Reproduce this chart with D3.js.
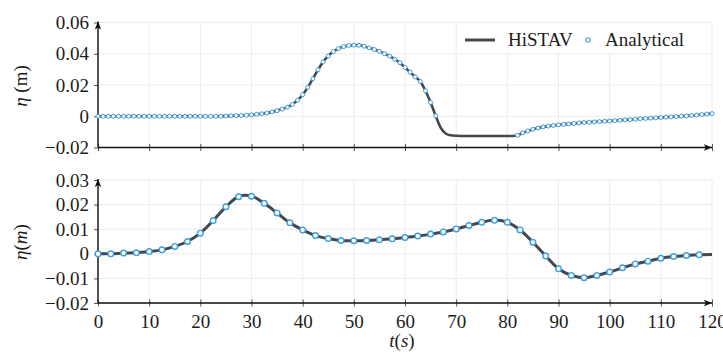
<!DOCTYPE html>
<html>
<head>
<meta charset="utf-8">
<script src="https://cdn.jsdelivr.net/npm/d3@7"></script>
</head>
<body style="margin:0">
<svg id="chart" width="723" height="352" font-family="Liberation Serif" font-size="19"></svg>
<script>
// time grids
var tTop = d3.range(0, 121, 1);          // 1 s samples, top panel
var tBotMarks = d3.range(0, 120, 2.5);   // 2.5 s samples, bottom analytical markers
var tBotLine = d3.range(0, 120.1, 2.5);  // bottom HiSTAV line (goes to 120)

// top panel: HiSTAV (line), t = 0..120
var histavTop = [
  0, 0, 0, 0, 0, 0, 0, 0, 0, 0,
  0, 0, 0, 0, 0, 0, 0, 0, 0, 0,
  0, 0, 0, 0, 0, 0.0002, 0.0003, 0.0004, 0.0005, 0.0007,
  0.0009, 0.0012, 0.0016, 0.0021, 0.0028, 0.0036, 0.0046, 0.0058, 0.0076, 0.0103,
  0.0138, 0.0185, 0.0240, 0.0298, 0.0348, 0.0386, 0.0414, 0.0433, 0.0446, 0.0453,
  0.0455, 0.0454, 0.0448, 0.0438, 0.0427, 0.0415, 0.0401, 0.0385, 0.0365, 0.0343,
  0.0312, 0.0282, 0.0252, 0.0222, 0.0163, 0.0088, 0.0003, -0.0075, -0.0112, -0.0122,
  -0.0125, -0.0126, -0.0126, -0.0126, -0.0126, -0.0126, -0.0126, -0.0126, -0.0126, -0.0126,
  -0.0126, -0.0126, -0.0123, -0.0106, -0.0094, -0.0084, -0.0075, -0.0068, -0.0063, -0.0059,
  -0.0055, -0.0052, -0.0049, -0.0046, -0.0043, -0.0040, -0.0038, -0.0036, -0.0034, -0.0032,
  -0.0030, -0.0028, -0.0026, -0.0023, -0.0021, -0.0019, -0.0016, -0.0014, -0.0012, -0.0010,
  -0.0008, -0.0006, -0.0004, -0.0002, 0.0000, 0.0002, 0.0005, 0.0008, 0.0011, 0.0014,
  0.0017
];

// top panel: Analytical (markers), null where no marker is drawn
var analyticalTop = [
  0, 0, 0, 0, 0, 0, 0, 0, 0, 0,
  0, 0, 0, 0, 0, 0, 0, 0, 0, 0,
  0, 0, 0, 0, 0, 0.0002, 0.0003, 0.0004, 0.0005, 0.0007,
  0.0009, 0.0012, 0.0016, 0.0021, 0.0028, 0.0036, 0.0046, 0.0058, 0.0076, 0.0103,
  0.0138, 0.0185, 0.0240, 0.0298, 0.0348, 0.0386, 0.0414, 0.0433, 0.0446, 0.0453,
  0.0455, 0.0454, 0.0448, 0.0438, 0.0427, 0.0415, 0.0401, 0.0385, 0.0365, 0.0343,
  0.0312, 0.0282, 0.0252, 0.0222, 0.0163, 0.0088, 0.0003, null, null, null,
  null, null, null, null, null, null, null, null, null, null,
  null, null, -0.0122, -0.0106, -0.0094, -0.0084, -0.0075, -0.0068, -0.0063, -0.0059,
  -0.0055, -0.0052, -0.0049, -0.0046, -0.0043, -0.0040, -0.0038, -0.0036, -0.0034, -0.0032,
  -0.0030, -0.0028, -0.0026, -0.0023, -0.0021, -0.0019, -0.0016, -0.0014, -0.0012, -0.0010,
  -0.0008, -0.0006, -0.0004, -0.0002, 0.0000, 0.0002, 0.0005, 0.0008, 0.0011, 0.0014,
  0.0017
];

// bottom panel
var analyticalBot = [
  0, 0, 0.0003, 0.0004, 0.0009, 0.0016, 0.0030, 0.0050, 0.0084, 0.0135,
  0.0191, 0.0232, 0.0234, 0.0205, 0.0166, 0.0126, 0.0097, 0.0074, 0.0062, 0.0054,
  0.0053, 0.0054, 0.0057, 0.0061, 0.0066, 0.0072, 0.0080, 0.0089, 0.0101, 0.0115,
  0.0128, 0.0136, 0.0128, 0.0097, 0.0047, -0.0009, -0.0061, -0.0088, -0.0097, -0.0088,
  -0.0074, -0.0057, -0.0041, -0.0030, -0.0018, -0.0011, -0.0007, -0.0004
];
var histavBot = [
  0, 0, 0.0003, 0.0004, 0.0009, 0.0016, 0.0030, 0.0050, 0.0084, 0.0135,
  0.0191, 0.0233, 0.0235, 0.0205, 0.0166, 0.0126, 0.0097, 0.0074, 0.0062, 0.0054,
  0.0053, 0.0054, 0.0057, 0.0061, 0.0066, 0.0072, 0.0080, 0.0089, 0.0101, 0.0115,
  0.0128, 0.0137, 0.0128, 0.0097, 0.0047, -0.0009, -0.0061, -0.0088, -0.0097, -0.0088,
  -0.0074, -0.0057, -0.0041, -0.0030, -0.0018, -0.0011, -0.0007, -0.0004, -0.0003
];

// ticks
var xTicks = d3.range(0, 121, 10);
var yTopTicks = [-0.02, 0, 0.02, 0.04, 0.06];
var yBotTicks = [-0.02, -0.01, 0, 0.01, 0.02, 0.03];

var lineColor = "#42484d",
    markColor = "#3d9fe0",
    gridColor = "#ececec",
    textColor = "#1c1c1c",
    font = "Liberation Serif";

var svg = d3.select("#chart");

var x = d3.scaleLinear().domain([0, 120]).range([98, 712]);
var yTop = d3.scaleLinear().domain([-0.02, 0.06]).range([147.5, 22.5]);
var yBot = d3.scaleLinear().domain([-0.02, 0.03]).range([303, 180]);

// arrow head
svg.append("defs").append("marker")
    .attr("id", "arrow")
    .attr("markerUnits", "userSpaceOnUse")
    .attr("viewBox", "0 -5 10 10")
    .attr("refX", 9)
    .attr("refY", 0)
    .attr("markerWidth", 9)
    .attr("markerHeight", 9)
    .attr("orient", "auto")
  .append("path")
    .attr("d", "M0,-3.6 L9,0 L0,3.6 L2.2,0 Z")
    .attr("fill", "#111");

function fmt(v) {
    if (v === 0) return "0";
    var s = Math.abs(v).toFixed(2);
    return (v < 0 ? "\u2212" : "") + s;
}

function label(parent) {
    return parent.append("text")
        .attr("font-family", font)
        .attr("font-size", 19)
        .attr("fill", textColor);
}

function panel(y, yTicks, showXLabels) {
    var g = svg.append("g");

    // grid
    g.append("g").selectAll("line").data(xTicks).join("line")
        .attr("x1", d => x(d)).attr("x2", d => x(d))
        .attr("y1", y.range()[0]).attr("y2", y.range()[1])
        .attr("stroke", gridColor).attr("stroke-width", 1);
    g.append("g").selectAll("line").data(yTicks).join("line")
        .attr("x1", x(0)).attr("x2", x(120))
        .attr("y1", d => y(d)).attr("y2", d => y(d))
        .attr("stroke", gridColor).attr("stroke-width", 1);

    // x axis ticks (both sides of the axis line)
    var xa = g.append("g")
        .attr("transform", "translate(0," + y(-0.02) + ")")
        .call(d3.axisBottom(x).tickValues(xTicks).tickSize(3.5).tickPadding(8)
            .tickFormat(showXLabels ? d3.format("d") : ""));
    xa.attr("font-family", font).attr("font-size", 19);
    xa.select(".domain").remove();
    xa.selectAll(".tick line").attr("y1", -3.5).attr("stroke", "#555");
    xa.selectAll(".tick text").attr("fill", textColor).attr("font-family", font);

    // y axis ticks
    var ya = g.append("g")
        .attr("transform", "translate(" + x(0) + ",0)")
        .call(d3.axisLeft(y).tickValues(yTicks).tickSize(4).tickPadding(5).tickFormat(fmt));
    ya.attr("font-family", font).attr("font-size", 19);
    ya.select(".domain").remove();
    ya.selectAll(".tick line").attr("stroke", "#555");
    ya.selectAll(".tick text").attr("fill", textColor).attr("font-family", font);

    // axis lines with arrows
    g.append("line")
        .attr("x1", x(0)).attr("x2", x(120))
        .attr("y1", y(-0.02)).attr("y2", y(-0.02))
        .attr("stroke", "#111").attr("stroke-width", 1.4)
        .attr("marker-end", "url(#arrow)");
    g.append("line")
        .attr("x1", x(0)).attr("x2", x(0))
        .attr("y1", y(-0.02)).attr("y2", y.range()[1] - 1)
        .attr("stroke", "#111").attr("stroke-width", 1.4)
        .attr("marker-end", "url(#arrow)");
    return g;
}

var gTop = panel(yTop, yTopTicks, false);
var gBot = panel(yBot, yBotTicks, true);

// top series
var topLine = d3.line()
    .x((d, i) => x(tTop[i]))
    .y(d => yTop(d))
    .curve(d3.curveMonotoneX);
gTop.append("path")
    .datum(histavTop)
    .attr("d", topLine)
    .attr("fill", "none")
    .attr("stroke", lineColor)
    .attr("stroke-width", 2.6);

var topPts = tTop.map((t, i) => ({t: t, v: analyticalTop[i]})).filter(d => d.v !== null);
gTop.append("g").selectAll("circle").data(topPts).join("circle")
    .attr("cx", d => x(d.t))
    .attr("cy", d => yTop(d.v))
    .attr("r", 2)
    .attr("fill", "#fff")
    .attr("stroke", markColor)
    .attr("stroke-width", 1);

// bottom series
var botLine = d3.line()
    .x((d, i) => x(tBotLine[i]))
    .y(d => yBot(d))
    .curve(d3.curveCatmullRom.alpha(0.5));
gBot.append("path")
    .datum(histavBot)
    .attr("d", botLine)
    .attr("fill", "none")
    .attr("stroke", lineColor)
    .attr("stroke-width", 3);

gBot.append("g").selectAll("circle").data(analyticalBot).join("circle")
    .attr("cx", (d, i) => x(tBotMarks[i]))
    .attr("cy", d => yBot(d))
    .attr("r", 2.8)
    .attr("fill", "#fff")
    .attr("stroke", markColor)
    .attr("stroke-width", 1.4);

// legend
var leg = svg.append("g");
leg.append("rect")
    .attr("x", 460).attr("y", 24).attr("width", 234).attr("height", 29)
    .attr("fill", "#fff");
leg.append("line")
    .attr("x1", 465).attr("x2", 495).attr("y1", 40).attr("y2", 40)
    .attr("stroke", lineColor).attr("stroke-width", 3);
label(leg).attr("x", 508).attr("y", 45.5).text("HiSTAV");
leg.append("circle")
    .attr("cx", 588).attr("cy", 40).attr("r", 2.2)
    .attr("fill", "#fff").attr("stroke", markColor).attr("stroke-width", 1.1);
label(leg).attr("x", 605).attr("y", 45.5).text("Analytical");

// axis labels
var yl1 = label(svg)
    .attr("transform", "translate(27,86) rotate(-90)")
    .attr("text-anchor", "middle");
yl1.append("tspan").attr("font-style", "italic").text("η");
yl1.append("tspan").text(" (m)");

var yl2 = label(svg)
    .attr("transform", "translate(27,242) rotate(-90)")
    .attr("text-anchor", "middle");
yl2.append("tspan").attr("font-style", "italic").text("η");
yl2.append("tspan").text("(");
yl2.append("tspan").attr("font-style", "italic").text("m");
yl2.append("tspan").text(")");

var xl = label(svg)
    .attr("x", 402).attr("y", 347)
    .attr("text-anchor", "middle");
xl.append("tspan").attr("font-style", "italic").text("t");
xl.append("tspan").text("(");
xl.append("tspan").attr("font-style", "italic").text("s");
xl.append("tspan").text(")");
</script>
</body>
</html>
